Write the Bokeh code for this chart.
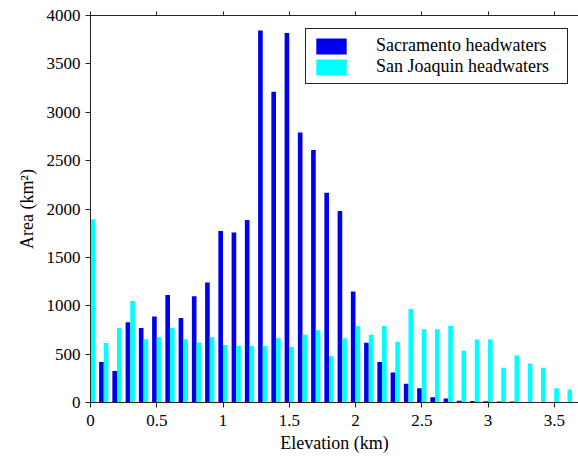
from bokeh.plotting import figure
from bokeh.models import ColumnDataSource, Range1d, LinearAxis, FixedTicker, Legend, LegendItem
from bokeh.transform import dodge
from bokeh.embed import file_html
from bokeh.resources import INLINE

# --- data ---
elevation_km = [0.0, 0.1, 0.2, 0.3, 0.4, 0.5, 0.6, 0.7, 0.8, 0.9,
                1.0, 1.1, 1.2, 1.3, 1.4, 1.5, 1.6, 1.7, 1.8, 1.9,
                2.0, 2.1, 2.2, 2.3, 2.4, 2.5, 2.6, 2.7, 2.8, 2.9,
                3.0, 3.1, 3.2, 3.3, 3.4, 3.5, 3.6]
sacramento = [0, 418, 325, 829, 770, 888, 1112, 874, 1098, 1240,
              1772, 1758, 1886, 3845, 3212, 3820, 2791, 2611, 2169, 1979,
              1147, 617, 418, 311, 193, 148, 55, 41, 17, 15,
              12, 10, 10, 5, 3, 3, 0]
san_joaquin = [1895, 615, 770, 1050, 653, 674, 770, 653, 619, 674,
               594, 584, 584, 584, 663, 573, 701, 746, 477, 663,
               791, 700, 791, 629, 967, 756, 756, 791, 535, 650,
               650, 359, 487, 404, 359, 148, 135]
x_ticks = [0, 0.5, 1, 1.5, 2, 2.5, 3, 3.5]
x_tick_labels = ["0", "0.5", "1", "1.5", "2", "2.5", "3", "3.5"]
y_ticks = [0, 500, 1000, 1500, 2000, 2500, 3000, 3500, 4000]
series_names = ["Sacramento headwaters", "San Joaquin headwaters"]

src = ColumnDataSource(dict(x=elevation_km, sac=sacramento, sj=san_joaquin))

FONT = "Liberation Serif"
AX = "#222222"

p = figure(width=578, height=458, output_backend="svg", toolbar_location=None,
           x_range=Range1d(0, 3.683), y_range=Range1d(0, 4000),
           min_border_left=90, min_border_right=0, min_border_top=15, min_border_bottom=56)
p.outline_line_color = None
p.xgrid.visible = False
p.ygrid.visible = False
p.background_fill_color = "white"
p.border_fill_color = "white"

bw = 0.035
r1 = p.vbar(x=dodge("x", -0.0175, range=p.x_range), top="sac", width=bw, bottom=0,
            source=src, fill_color="#0000ee", line_color=None)
r2 = p.vbar(x=dodge("x", 0.0175, range=p.x_range), top="sj", width=bw, bottom=0,
            source=src, fill_color="#00ffff", line_color=None)

# bottom axis
xa = p.xaxis[0]
xa.ticker = FixedTicker(ticks=x_ticks)
xa.major_label_overrides = {t: l for t, l in zip(x_ticks, x_tick_labels)}
xa.axis_label = "Elevation (km)"
# left axis
ya = p.yaxis[0]
ya.ticker = FixedTicker(ticks=y_ticks)
ya.axis_label = "Area (km\u00b2)"

for ax in (xa, ya):
    ax.axis_line_color = AX
    ax.major_tick_line_color = AX
    ax.major_tick_in = 0
    ax.major_tick_out = 5
    ax.minor_tick_line_color = None
    ax.major_label_text_font = FONT
    ax.major_label_text_font_size = "17px"
    ax.major_label_text_color = "black"
    ax.axis_label_text_font = FONT
    ax.axis_label_text_font_size = "18px"
    ax.axis_label_text_font_style = "normal"
    ax.axis_label_text_color = "black"
xa.major_label_standoff = 7
xa.axis_label_standoff = 4
ya.major_label_standoff = 5
ya.axis_label_standoff = 7

# top axis (frame box, ticks only)
ta = LinearAxis(ticker=FixedTicker(ticks=x_ticks))
ta.major_label_overrides = {t: "" for t in x_ticks}
ta.major_label_text_font_size = "1px"
ta.major_label_standoff = 0
ta.axis_line_color = AX
ta.major_tick_line_color = AX
ta.major_tick_in = 0
ta.major_tick_out = 4
ta.minor_tick_line_color = None
p.add_layout(ta, "above")

legend = Legend(items=[LegendItem(label=series_names[0], renderers=[r1]),
                       LegendItem(label=series_names[1], renderers=[r2])],
                location=(215, 318))
legend.glyph_width = 38
legend.glyph_height = 20
legend.label_height = 20
legend.label_width = 185
legend.label_standoff = 26
legend.spacing = 0
legend.padding = 6
legend.margin = 0
legend.label_text_font = FONT
legend.label_text_font_size = "18px"
legend.label_text_color = "black"
legend.border_line_color = "#222222"
legend.border_line_width = 1
legend.border_line_alpha = 1
legend.background_fill_color = "white"
legend.background_fill_alpha = 1
p.add_layout(legend)

open("out.html", "w").write(file_html(p, INLINE))
